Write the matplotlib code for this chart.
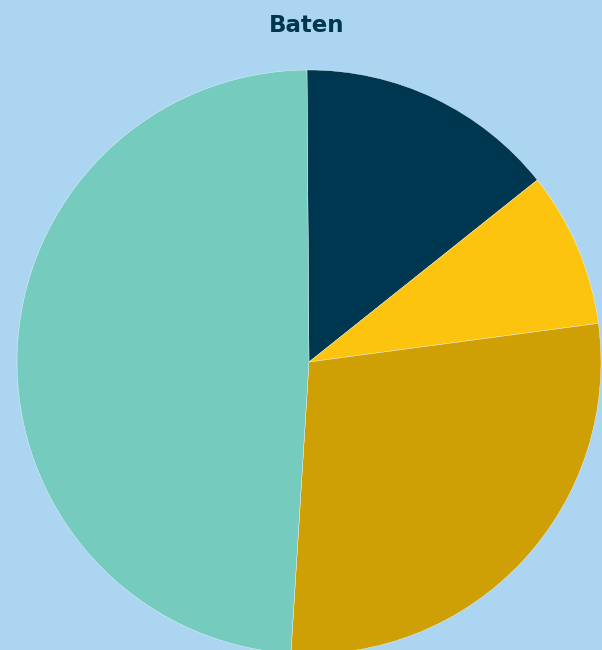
import matplotlib.pyplot as plt

# slice data, clockwise from the top
labels = ['A', 'B', 'C', 'D']
values = [14.4, 8.6, 28.1, 48.9]
colors = ['#003750', '#FDC40F', '#CFA006', '#76CBBF']

bg = '#ABD5F0'

fig = plt.figure(figsize=(6.02, 6.5), dpi=100)
fig.patch.set_facecolor(bg)
ax = fig.add_axes([0, 0, 1, 1])
ax.set_facecolor(bg)

# axes in pixel units so the pie sits where it does in the reference
ax.pie(values, colors=colors, startangle=90.4, counterclock=False,
       center=(309, 650 - 362), radius=292,
       wedgeprops=dict(edgecolor='white', linewidth=0.25))
ax.set_xlim(0, 602)
ax.set_ylim(0, 650)
ax.set_aspect('equal')
ax.axis('off')

fig.text(307 / 602, 1 - 25 / 650, 'Baten', ha='center', va='center',
         fontsize=16.5, fontweight='bold', color='#003750')

fig.savefig('out.png', dpi=100, facecolor=bg)
